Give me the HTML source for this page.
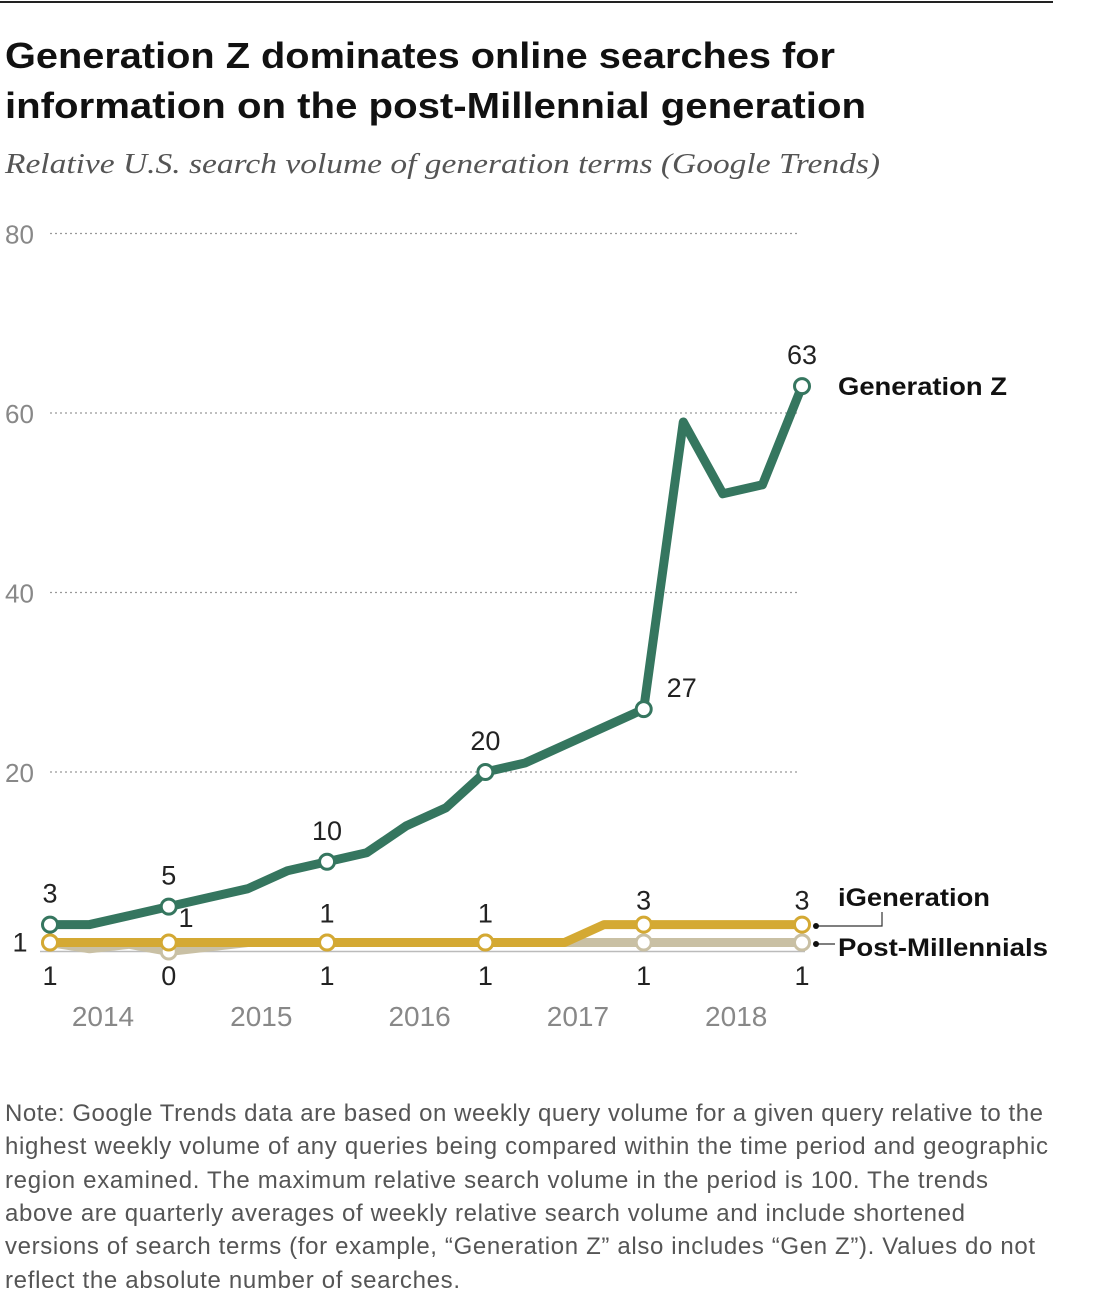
<!DOCTYPE html>
<html><head><meta charset="utf-8"><style>
body{margin:0;background:#fff;width:1093px;height:1299px;overflow:hidden;font-family:"Liberation Sans",sans-serif}
svg{position:absolute;left:0;top:0}
</style></head><body>
<svg width="1093" height="1299">
<line x1="0" y1="2" x2="1053" y2="2" stroke="#222" stroke-width="2"/>
<text x="5" y="68" font-size="36" font-weight="bold" fill="#111" textLength="830" lengthAdjust="spacingAndGlyphs">Generation Z dominates online searches for</text>
<text x="5" y="118" font-size="36" font-weight="bold" fill="#111" textLength="861" lengthAdjust="spacingAndGlyphs">information on the post-Millennial generation</text>
<text x="5" y="173" font-size="28" font-style="italic" fill="#555" font-family="Liberation Serif" textLength="875" lengthAdjust="spacingAndGlyphs">Relative U.S. search volume of generation terms (Google Trends)</text>
<g id="grid"></g><g id="series"></g><g id="labels"></g>
<g font-size="24" fill="#555" lengthAdjust="spacingAndGlyphs">
<text x="5" y="1121" textLength="1038">Note: Google Trends data are based on weekly query volume for a given query relative to the</text>
<text x="5" y="1154" textLength="1043">highest weekly volume of any queries being compared within the time period and geographic</text>
<text x="5" y="1188" textLength="983">region examined. The maximum relative search volume in the period is 100. The trends</text>
<text x="5" y="1221" textLength="960">above are quarterly averages of weekly relative search volume and include shortened</text>
<text x="5" y="1254" textLength="1030">versions of search terms (for example, “Generation Z” also includes “Gen Z”). Values do not</text>
<text x="5" y="1288" textLength="455">reflect the absolute number of searches.</text>
</g>
</svg>
<script>
const yTicks=[0,20,40,60,80];
const yearLabels=["2014","2015","2016","2017","2018"];
const genZ=[3,3,4,5,6,7,9,10,11,14,16,20,21,23,25,27,59,51,52,63];
const iGen=[1,1,1,1,1,1,1,1,1,1,1,1,1,1,3,3,3,3,3,3];
const postMil=[1,0.3,0.8,0,0.5,1,1,1,1,1,1,1,1,1,1,1,1,1,1,1];
const markIdx=[0,3,7,11,15,19];
const NS="http://www.w3.org/2000/svg";
const X=i=>50+i*39.58, Y=v=>951.5-v*8.975;
function mk(t,a,p){const e=document.createElementNS(NS,t);for(const k in a)e.setAttribute(k,a[k]);p.appendChild(e);return e;}
const grid=document.getElementById('grid'),ser=document.getElementById('series'),lab=document.getElementById('labels');
yTicks.forEach(t=>{
 if(t>0){const l=mk('line',{x1:50,x2:800,y1:Y(t),y2:Y(t),stroke:'#999','stroke-dasharray':'2,3','stroke-width':1.2},grid);
 
 
 const tx=mk('text',{x:5,y:Y(t)+10,'font-size':26,fill:'#888'},grid);tx.textContent=t;
 
 }
});
const base=mk('line',{x1:40,x2:805,y1:Y(0),y2:Y(0),stroke:'#bbb','stroke-width':1.5},grid);


yearLabels.forEach((y,i)=>{const t=mk('text',{x:103+i*158.3,y:1026,'font-size':28,fill:'#888','text-anchor':'middle'},grid);t.textContent=y;
 
 });
function line(d,c,n){const p=mk('polyline',{points:d.map((v,i)=>X(i)+','+Y(v)).join(' '),fill:'none',stroke:c,'stroke-width':9,'stroke-linejoin':'round'},ser);
 
 
 markIdx.forEach(i=>{const m=mk('circle',{cx:X(i),cy:Y(d[i]),r:7.5,fill:'#fff',stroke:c,'stroke-width':3},ser);
 
 });}
line(postMil,'#c9c0a4','post-millennials');
line(iGen,'#d4a933','igeneration');
line(genZ,'#35765f','generation-z');
function txt(s,x,y,o){const t=mk('text',Object.assign({x:x,y:y,'font-size':27,fill:'#222','text-anchor':'middle'},o||{}),lab);t.textContent=s;
 
 return t;}
markIdx.forEach((i,k)=>{
 const gx=X(i)+(i==15?38:0),gy=Y(genZ[i])-(i==15?12:22);
 txt(genZ[i],gx,gy);
 if(i==0){txt(iGen[i],20,Y(1)+9);}else if(i==3){txt(iGen[i],186,927);}else txt(iGen[i],X(i),Y(iGen[i])-(iGen[i]>1?15:20));
 txt(postMil[i]<0.5?0:Math.round(postMil[i]),X(i),985);
});
const sl=(s,x,y,n,w)=>{const t=mk('text',{x:x,y:y,'font-size':25,'font-weight':'bold',fill:'#111',textLength:w,lengthAdjust:'spacingAndGlyphs'},lab);t.textContent=s;
 
 };
sl('Generation Z',838,395,'label-generation-z',169);
sl('iGeneration',838,906,'label-igeneration',152);
sl('Post-Millennials',838,956,'label-post-millennials',210);
mk('path',{d:'M816 926 H882 V912',fill:'none',stroke:'#333','stroke-width':1.2},lab);
mk('path',{d:'M816 944 H835',fill:'none',stroke:'#333','stroke-width':1.2},lab);
mk('circle',{cx:816,cy:926,r:3,fill:'#111'},lab);mk('circle',{cx:816,cy:944,r:3,fill:'#111'},lab);
</script>
</body></html>
